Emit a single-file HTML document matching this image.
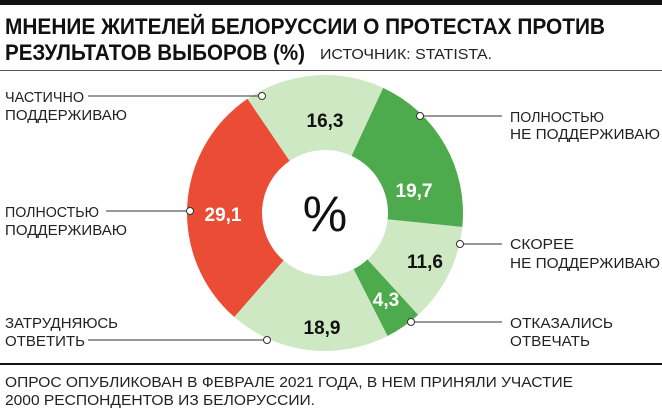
<!DOCTYPE html>
<html><head><meta charset="utf-8"><style>
html,body{margin:0;padding:0;background:#fff;}
svg{display:block;font-family:"Liberation Sans","DejaVu Sans",sans-serif;}
</style></head><body>
<svg width="662" height="410" viewBox="0 0 662 410" xmlns="http://www.w3.org/2000/svg">
<rect x="0" y="0" width="662" height="5" fill="#111"/>
<text x="5" y="34" font-size="22" font-weight="bold" fill="#111" textLength="600" lengthAdjust="spacingAndGlyphs">МНЕНИЕ ЖИТЕЛЕЙ БЕЛОРУССИИ О ПРОТЕСТАХ ПРОТИВ</text>
<text x="5" y="60" font-size="22" font-weight="bold" fill="#111" textLength="300" lengthAdjust="spacingAndGlyphs">РЕЗУЛЬТАТОВ ВЫБОРОВ (%)</text>
<text x="320" y="59" font-size="15" fill="#222" textLength="172" lengthAdjust="spacingAndGlyphs">ИСТОЧНИК: STATISTA.</text>
<rect x="0" y="70" width="662" height="1" fill="#555"/>

<path fill="#4dab4d" d="M383.10,87.83 A138,138 0 0 1 462.29,226.99 L387.68,219.39 A63,63 0 0 0 351.52,155.86 Z"/>
<path fill="#cde8c2" d="M462.29,226.99 A138,138 0 0 1 418.10,314.86 L367.50,259.50 A63,63 0 0 0 387.68,219.39 Z"/>
<path fill="#4dab4d" d="M418.10,314.86 A138,138 0 0 1 387.52,336.03 L353.54,269.16 A63,63 0 0 0 367.50,259.50 Z"/>
<path fill="#cde8c2" d="M387.52,336.03 A138,138 0 0 1 234.28,316.99 L283.58,260.47 A63,63 0 0 0 353.54,269.16 Z"/>
<path fill="#ea4c36" d="M234.28,316.99 A138,138 0 0 1 247.54,98.79 L289.64,160.86 A63,63 0 0 0 283.58,260.47 Z"/>
<path fill="#cde8c2" d="M247.54,98.79 A138,138 0 0 1 383.10,87.83 L351.52,155.86 A63,63 0 0 0 289.64,160.86 Z"/>
<text x="325" y="231" font-size="50" fill="#111" text-anchor="middle">%</text>

<g font-size="19" font-weight="bold" text-anchor="middle">
<text x="325" y="127" fill="#111">16,3</text>
<text x="414" y="197" fill="#fff">19,7</text>
<text x="223" y="221" fill="#fff">29,1</text>
<text x="425" y="268" fill="#111">11,6</text>
<text x="386" y="306" fill="#fff">4,3</text>
<text x="322" y="334" fill="#111">18,9</text>
</g>

<g font-size="15" fill="#222" lengthAdjust="spacingAndGlyphs">
<text x="5" y="102" textLength="79" lengthAdjust="spacingAndGlyphs">ЧАСТИЧНО</text>
<text x="5" y="120" textLength="122" lengthAdjust="spacingAndGlyphs">ПОДДЕРЖИВАЮ</text>
<text x="510" y="122" textLength="94" lengthAdjust="spacingAndGlyphs">ПОЛНОСТЬЮ</text>
<text x="510" y="139" textLength="150" lengthAdjust="spacingAndGlyphs">НЕ ПОДДЕРЖИВАЮ</text>
<text x="5" y="217" textLength="94" lengthAdjust="spacingAndGlyphs">ПОЛНОСТЬЮ</text>
<text x="5" y="235" textLength="122" lengthAdjust="spacingAndGlyphs">ПОДДЕРЖИВАЮ</text>
<text x="510" y="249" textLength="64" lengthAdjust="spacingAndGlyphs">СКОРЕЕ</text>
<text x="510" y="268" textLength="150" lengthAdjust="spacingAndGlyphs">НЕ ПОДДЕРЖИВАЮ</text>
<text x="5" y="328" textLength="113" lengthAdjust="spacingAndGlyphs">ЗАТРУДНЯЮСЬ</text>
<text x="5" y="346" textLength="80" lengthAdjust="spacingAndGlyphs">ОТВЕТИТЬ</text>
<text x="510" y="328" textLength="103" lengthAdjust="spacingAndGlyphs">ОТКАЗАЛИСЬ</text>
<text x="510" y="346" textLength="80" lengthAdjust="spacingAndGlyphs">ОТВЕЧАТЬ</text>
</g>

<g stroke="#333" stroke-width="1" fill="#fff">
<line x1="88" y1="96" x2="259" y2="96"/><circle cx="262" cy="96" r="3.5"/>
<line x1="423" y1="116" x2="502" y2="116"/><circle cx="420" cy="116" r="3.5"/>
<line x1="106" y1="211" x2="187" y2="211"/><circle cx="190" cy="211" r="3.5"/>
<line x1="463" y1="244" x2="502" y2="244"/><circle cx="460" cy="244" r="3.5"/>
<line x1="88" y1="340" x2="264" y2="340"/><circle cx="267" cy="340" r="3.5"/>
<line x1="414" y1="322" x2="502" y2="322"/><circle cx="411" cy="322" r="3.5"/>
</g>

<rect x="0" y="363" width="662" height="2" fill="#111"/>
<g font-size="15" fill="#222">
<text x="5" y="387" textLength="568" lengthAdjust="spacingAndGlyphs">ОПРОС ОПУБЛИКОВАН В ФЕВРАЛЕ 2021 ГОДА, В НЕМ ПРИНЯЛИ УЧАСТИЕ</text>
<text x="5" y="405" textLength="310" lengthAdjust="spacingAndGlyphs">2000 РЕСПОНДЕНТОВ ИЗ БЕЛОРУССИИ.</text>
</g>
</svg>
</body></html>
